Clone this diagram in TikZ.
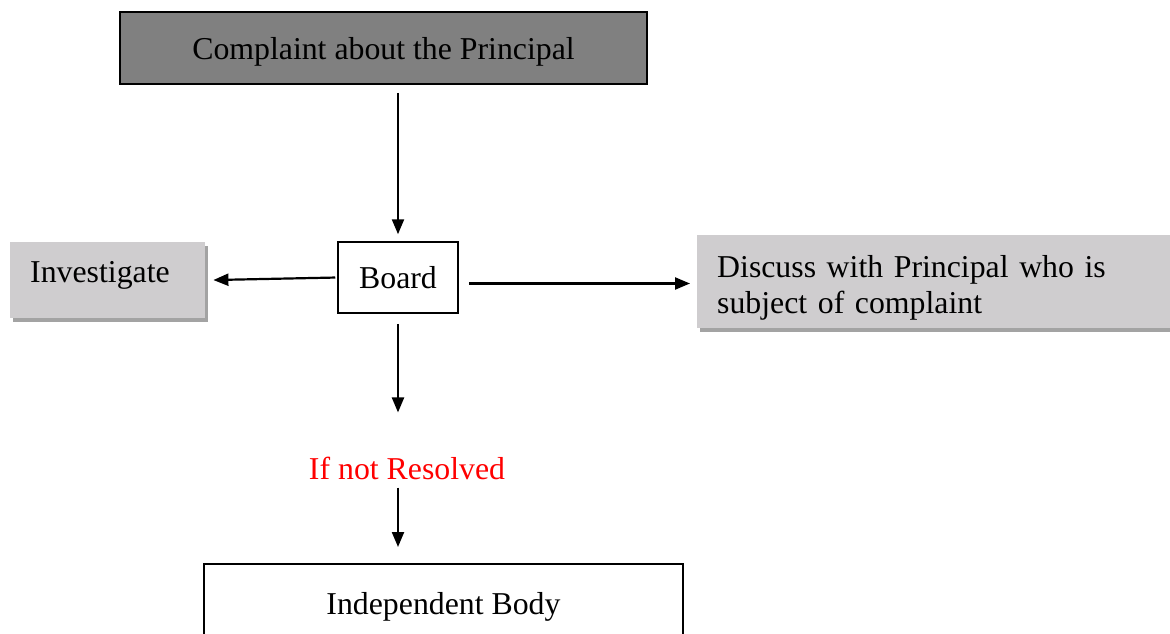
\documentclass[tikz,border=0pt]{standalone}
\usepackage{fontspec}
\setmainfont{Liberation Serif}
\usetikzlibrary{arrows.meta,shadows}
\definecolor{darkbox}{RGB}{128,128,128}
\definecolor{lightbox}{RGB}{207,205,207}
\definecolor{shadowgray}{RGB}{163,163,163}
\tikzset{
  every node/.style={font=\fontsize{31.8}{36.6}\selectfont},
  flow/.style={line width=2.2pt,-{Triangle[length=15pt,width=12pt]}},
  plainbox/.style={draw=black,line width=1.8pt,fill=white,inner sep=0pt,text depth=0pt},
  shadedbox/.style={fill=lightbox,inner sep=0pt,
    drop shadow={shadow xshift=3pt,shadow yshift=-4pt,fill=shadowgray,opacity=1}},
}
\begin{document}
\begin{tikzpicture}[x=1pt,y=-1pt]
\useasboundingbox (0,0) rectangle (1170,634);
\clip (0,0) rectangle (1170,634);

% top: incoming complaint
\node[plainbox,fill=darkbox,minimum width=527pt,minimum height=72pt]
  (top) at (383.5,48) {Complaint about the Principal};

% the board
\node[plainbox,line width=1.5pt,minimum width=120pt,minimum height=71pt]
  (board) at (398,277.5) {Board};

% left option
\node[shadedbox,anchor=north west,text width=155pt,align=left,inner xsep=20pt,
  text height=40pt,text depth=36pt] (inv) at (10,242) {Investigate};

% right option
\node[shadedbox,anchor=north west,text width=460pt,align=left,inner xsep=20pt,
  text height=42pt,text depth=51pt] (disc) at (697,235)
  {\mbox{Discuss with Principal who is}\\\mbox{subject of complaint}};

% escalation
\node[text=red,inner sep=2pt] (ifnot) at (407,468) {If not Resolved};

\node[plainbox,line width=2pt,minimum width=479pt,minimum height=78pt]
  (indep) at (443.5,603) {Independent Body};

% connectors
\draw[flow,shorten <=8pt,shorten >=7pt] (top.south -| board.north) -- (board.north);
\draw[flow,shorten <=2pt,shorten >=8pt] (board.west) -- (inv.east);
\draw[flow,shorten <=10pt,shorten >=7pt]
  ([yshift=-6pt]board.east) -- ([yshift=-6pt]board.east -| disc.west);
\draw[flow,shorten <=10pt,shorten >=42pt] (board.south) -- (board.south |- ifnot.north);
\draw[flow,shorten <=6pt,shorten >=16pt] (board.south |- ifnot.south) -- (board.south |- indep.north);
\end{tikzpicture}
\end{document}
